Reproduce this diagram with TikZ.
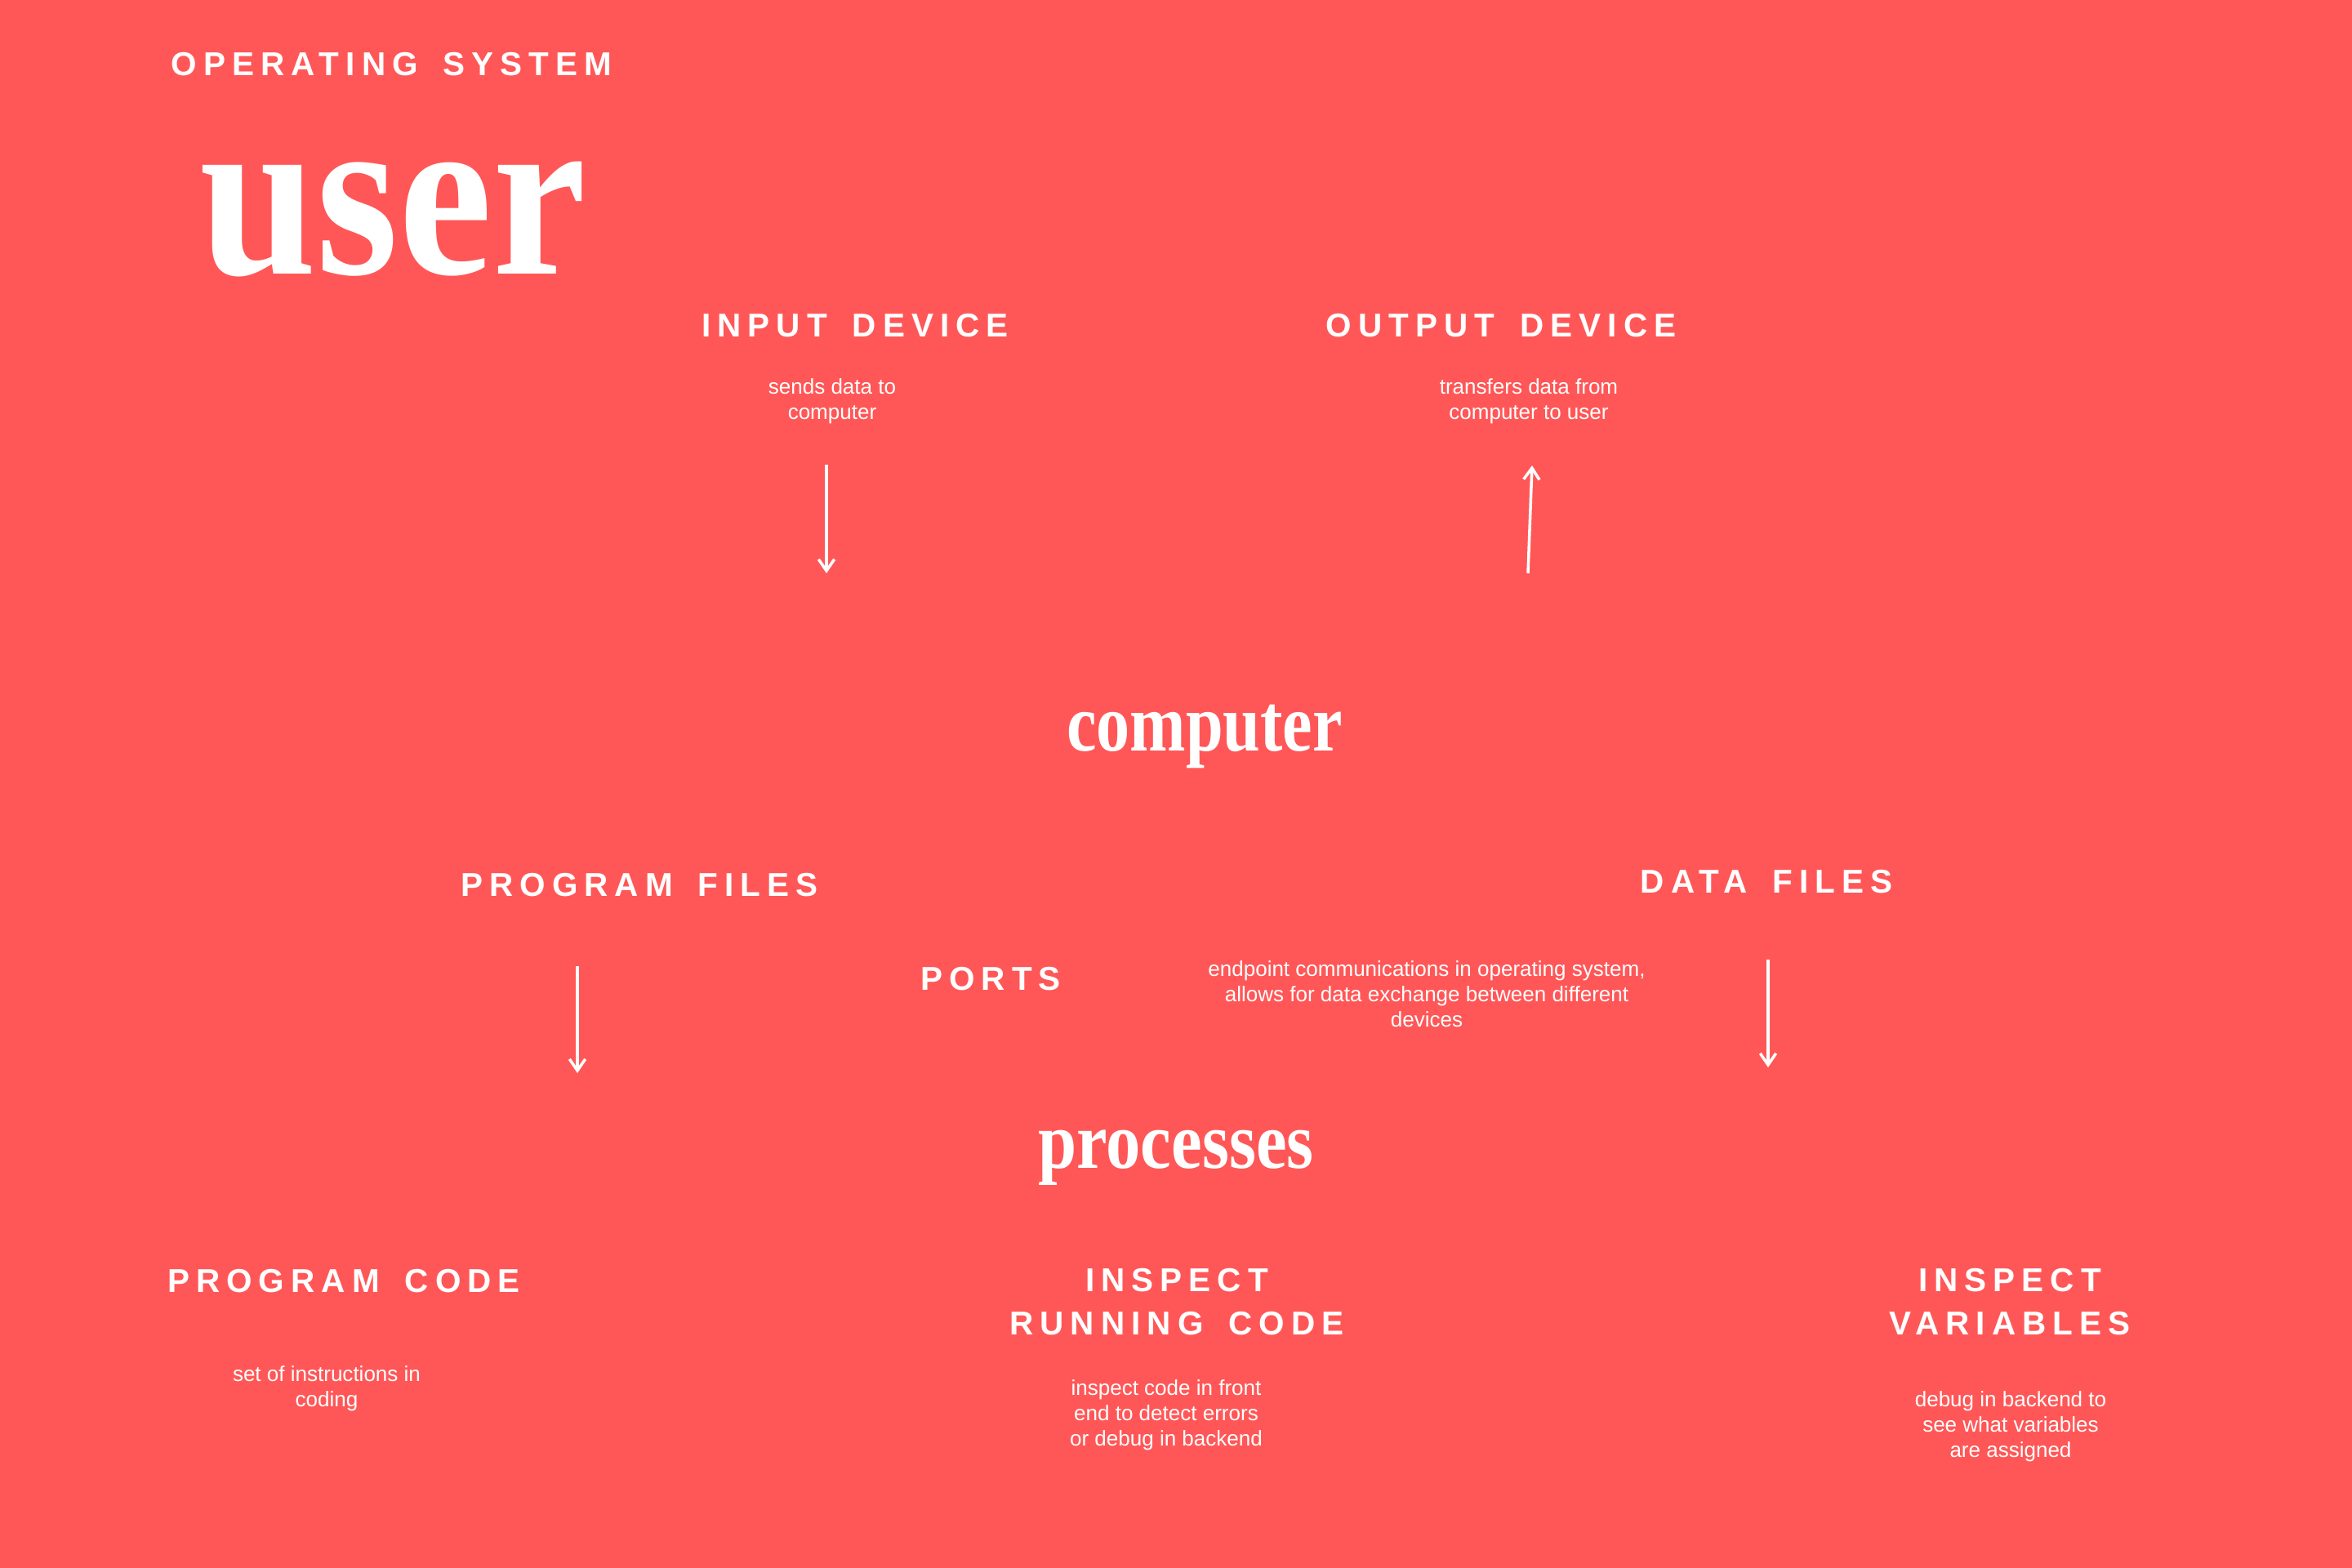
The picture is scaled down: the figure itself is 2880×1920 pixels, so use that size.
\documentclass[tikz,border=0pt]{standalone}
\usepackage{fontspec}
\usepackage{graphicx}
\setmainfont{Liberation Sans}
\newfontfamily\headfont{Liberation Sans}[LetterSpace=20, WordSpace=1.6]
\newfontfamily\bigfont{Liberation Serif}
\usetikzlibrary{arrows.meta, positioning}
\definecolor{coral}{RGB}{255,87,87}

\begin{document}
\begin{tikzpicture}[
    x=0.01cm, y=-0.01cm,
    every node/.style={text=white, inner sep=0pt, anchor=base},
    head/.style={font=\headfont\bfseries\fontsize{11.5}{14.8}\selectfont, align=center},
    desc/.style={font=\fontsize{7.4}{8.8}\selectfont, align=center},
    big/.style={font=\bigfont\bfseries\fontsize{#1}{#1}\selectfont},
    arr/.style={-{Straight Barb[length=4pt, width=5.5pt]}, draw=white, line width=1pt},
]
\useasboundingbox (0,0) rectangle (2880,1920);
\fill[coral] (0,0) rectangle (2880,1920);
\node[head, anchor=base west] (os) at (209,92) {OPERATING SYSTEM};
\node[big=82.5] (user) at (481,335) {\scalebox{0.89}[1]{user}};
\node[head] (indev) at (1047,412) {INPUT DEVICE};
\node[desc] (indesc) at (1019,513) {sends data to\\computer};
\node[head] (outdev) at (1838,412) {OUTPUT DEVICE};
\node[desc] (outdesc) at (1872,513) {transfers data from\\computer to user};
\node[big=28.5] (comp) at (1475,919) {\scalebox{0.82}[1]{computer}};
\node[head] (progf) at (783,1097) {PROGRAM FILES};
\node[head] (dataf) at (2163,1093) {DATA FILES};
\node[head] (ports) at (1213,1212) {PORTS};
\node[desc] (portdesc) at (1747,1257) {endpoint communications in operating system,\\allows for data exchange between different\\devices};
\node[big=28] (proc) at (1440,1430) {\scalebox{0.86}[1]{processes}};
\node[head] (pcode) at (421,1582) {PROGRAM CODE};
\node[desc] (pcdesc) at (400,1722) {set of instructions in\\coding};
\node[head] (irun) at (1441,1634) {INSPECT\\RUNNING CODE};
\node[desc] (irdesc) at (1428,1770) {inspect code in front\\end to detect errors\\or debug in backend};
\node[head] (ivar) at (2461,1634) {INSPECT\\VARIABLES};
\node[desc] (ivdesc) at (2462,1784) {debug in backend to\\see what variables\\are assigned};
\coordinate (in-top) at (1012,569);
\coordinate (in-end) at (1012,702);
\coordinate (out-top) at (1876,570);
\coordinate (out-end) at (1871,702);
\coordinate (pf-top) at (707,1183);
\coordinate (pf-end) at (707,1314);
\coordinate (df-top) at (2165,1175);
\coordinate (df-end) at (2165,1307);
\draw[arr] (in-top) -- (in-end);
\draw[arr] (out-end) -- (out-top);
\draw[arr] (pf-top) -- (pf-end);
\draw[arr] (df-top) -- (df-end);
\end{tikzpicture}
\end{document}
